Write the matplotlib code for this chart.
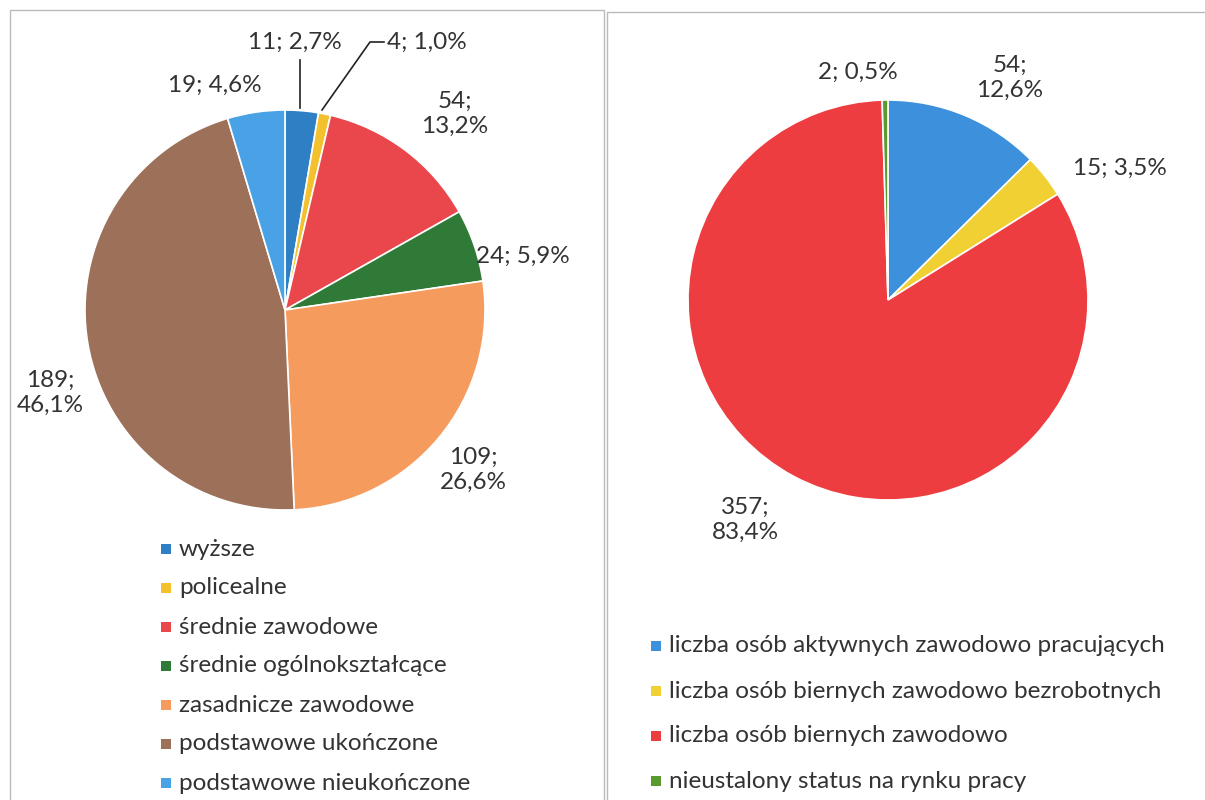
import matplotlib

matplotlib.use("Agg")
import matplotlib.pyplot as plt
from matplotlib.lines import Line2D
from matplotlib.patches import Rectangle

plt.rcParams["font.family"] = ["Lato", "DejaVu Sans"]

edu_labels = [
    "wyższe",
    "policealne",
    "średnie zawodowe",
    "średnie ogólnokształcące",
    "zasadnicze zawodowe",
    "podstawowe ukończone",
    "podstawowe nieukończone",
]
edu_values = [11, 4, 54, 24, 109, 189, 19]
edu_colors = ["#2f7fc4", "#f3c12e", "#e9474b", "#2f7a36", "#f59b5e", "#9c7059", "#4aa2e6"]

status_labels = [
    "liczba osób aktywnych zawodowo pracujących",
    "liczba osób biernych zawodowo bezrobotnych",
    "liczba osób biernych zawodowo",
    "nieustalony status na rynku pracy",
]
status_values = [54, 15, 357, 2]
status_colors = ["#3d90dc", "#f1d034", "#ee3d41", "#5b9a2e"]

W, H = 1205, 800
TEXT = "#333333"
FS = 17.5


def pct_label(v, total, two_lines=False):
    p = f"{100 * v / total:.1f}".replace(".", ",")
    sep = ";\n" if two_lines else "; "
    return f"{v}{sep}{p}%"


def pie_axes(fig, cx, cy, r):
    ax = fig.add_axes([(cx - r) / W, (H - cy - r) / H, 2 * r / W, 2 * r / H])
    ax.set_xlim(-1, 1)
    ax.set_ylim(-1, 1)
    ax.axis("off")
    return ax


def draw_pie(ax, values, colors):
    ax.pie(values, colors=colors, startangle=90, counterclock=False, radius=1,
           wedgeprops=dict(edgecolor="white", linewidth=1.2))
    ax.set_xlim(-1, 1)
    ax.set_ylim(-1, 1)


def legend_rows(fig, labels, colors, x, y0, step):
    for i, (lab, col) in enumerate(zip(labels, colors)):
        y = (H - (y0 + i * step)) / H
        fig.patches.append(Rectangle((x / W, y - 5 / H), 10 / W, 10 / H,
                                     transform=fig.transFigure, facecolor=col, edgecolor="none"))
        fig.text((x + 18) / W, y, lab, fontsize=FS, color=TEXT, va="center", ha="left")


fig = plt.figure(figsize=(W / 100, H / 100), dpi=100)

# panel frames
for x0, x1, y0 in [(10, 604, 10), (607, 1215, 12)]:
    fig.patches.append(Rectangle((x0 / W, -0.1), (x1 - x0) / W, (H - y0) / H + 0.1,
                                 transform=fig.transFigure, facecolor="none",
                                 edgecolor="#bbbbbb", linewidth=1.0))

# left pie: education
ax1 = pie_axes(fig, 285, 310, 200)
draw_pie(ax1, edu_values, edu_colors)
tot1 = sum(edu_values)
left_pos = [(0.05, 1.34, "center", False), (0.51, 1.34, "left", False), (0.85, 0.98, "center", True),
            (1.19, 0.27, "center", False), (0.94, -0.8, "center", True), (-1.175, -0.415, "center", True),
            (-0.35, 1.125, "center", False)]
for v, (x, y, ha, two) in zip(edu_values, left_pos):
    ax1.text(x, y, pct_label(v, tot1, two), fontsize=FS, color=TEXT, ha=ha, va="center",
             ma="center", clip_on=False)
ax1.add_line(Line2D([0.075, 0.075], [1.01, 1.25], color="#222222", lw=1.2, clip_on=False))
ax1.add_line(Line2D([0.185, 0.425, 0.495], [1.0, 1.34, 1.34], color="#222222", lw=1.2, clip_on=False))

# right pie: labour market status
ax2 = pie_axes(fig, 888, 300, 200)
draw_pie(ax2, status_values, status_colors)
tot2 = sum(status_values)
right_pos = [(0.61, 1.11, True), (1.16, 0.66, False), (-0.715, -1.1, True), (-0.15, 1.14, False)]
for v, (x, y, two) in zip(status_values, right_pos):
    ax2.text(x, y, pct_label(v, tot2, two), fontsize=FS, color=TEXT, ha="center", va="center",
             ma="center", clip_on=False)

legend_rows(fig, edu_labels, edu_colors, 161, 549, 39)
legend_rows(fig, status_labels, status_colors, 651, 646, 45)

fig.savefig("out.png", dpi=100, facecolor="white")
